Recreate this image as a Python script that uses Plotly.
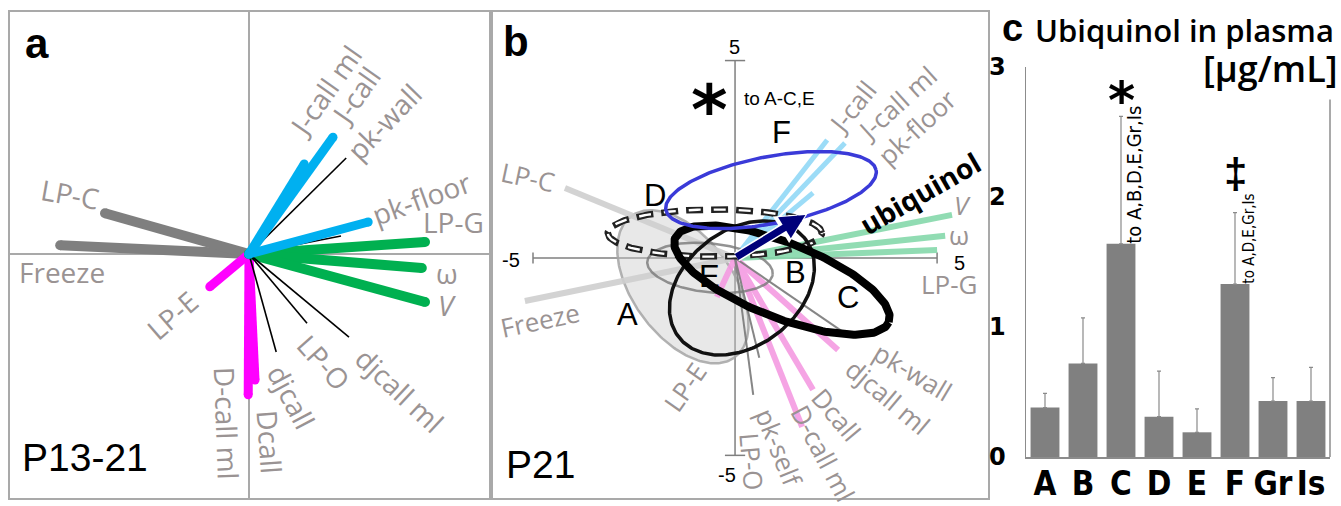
import numpy as np
import plotly.graph_objects as go

W, H = 1341, 506

# ---------------- Panel a : loadings P13-21 ----------------
a_vars = ["Freeze", "LP-C", "J-call ml", "J-call", "pk-wall", "pk-floor", "pk-self",
          "LP-G", "ω", "V", "LP-E", "LP-O", "djcall ml", "djcall", "Dcall", "D-call ml"]
a_x = [-4.72, -3.60, 2.10, 1.38, 2.43, 2.98, 2.30, 4.40, 4.32, 4.40, -0.98, 1.45, 2.50, 0.68, 0.15, -0.02]
a_y = [0.22, 1.02, 2.92, 2.25, 2.40, 0.80, 0.45, 0.30, -0.35, -1.20, -0.82, -1.73, -2.08, -2.45, -3.15, -3.52]
a_grp = ["gray", "gray", "blue", "blue", "black", "blue", "black",
         "green", "green", "green", "magenta", "black", "black", "black", "magenta", "magenta"]

# ---------------- Panel b : loadings P21 ----------------
b_vars = ["LP-C", "Freeze", "J-call", "J-call ml", "pk-floor", "V", "ω", "LP-G",
          "pk-wall", "djcall ml", "Dcall", "D-call ml", "pk-self", "LP-O", "LP-E"]
b_x = [-4.21, -5.20, 2.28, 2.72, 1.93, 5.37, 5.20, 5.00, 2.85, 2.55, 1.93, 1.66, 0.60, 0.45, -0.45]
b_y = [1.77, -1.09, 2.99, 2.91, 1.65, 1.09, 0.56, 0.20, -2.00, -2.33, -3.34, -4.28, -2.53, -3.47, -0.99]
b_grp = ["gray", "gray", "blue", "blue", "blue", "green", "green", "green",
         "dark", "pink", "pink", "pink", "dark", "dark", "pink"]

# group ellipses in panel b (centre, semi-axes, angle in degrees)
ell_names = ["A", "E", "D", "B", "C", "F"]
ell_cx = [-1.29, -0.62, -0.50, 0.17, 1.16, 0.89]
ell_cy = [-0.73, -0.25, 0.63, -0.76, -0.56, 1.72]
ell_a = [2.20, 1.56, 2.65, 2.00, 2.85, 2.65]
ell_b = [1.25, 0.62, 0.60, 1.45, 0.95, 0.85]
ell_ang = [-55, -6, 0, 40, -22, 11]

# ubiquinol vector
ubi_x, ubi_y = 1.74, 1.09

# ---------------- Panel c : ubiquinol in plasma ----------------
groups = ["A", "B", "C", "D", "E", "F", "Gr", "Is"]
means = [0.38, 0.72, 1.64, 0.31, 0.19, 1.33, 0.43, 0.43]
upper = [0.49, 1.07, 2.62, 0.66, 0.37, 1.88, 0.61, 0.69]
y_ticks = [0, 1, 2, 3]

LBL = "#9a9393"
FRAME = "#a9a9a9"
COND = "DejaVu Sans Condensed"


def px(x):
    return x / W


def py(y):
    return 1 - y / H


fig = go.Figure()

# ---- panel a lines
col_a = {"gray": "#7f7f7f", "blue": "#00b0f0", "green": "#00b050", "magenta": "#ff00ff", "black": "#000000"}
wid_a = {"gray": 10, "blue": 9, "green": 10, "magenta": 9, "black": 1.6}
for g in ["gray", "magenta", "green", "black", "blue"]:
    xs, ys = [], []
    for x, y, gg in zip(a_x, a_y, a_grp):
        if gg == g:
            xs += [0, x, None]
            ys += [0, y, None]
    fig.add_trace(go.Scatter(
        x=xs, y=ys, mode="lines" if g == "black" else "lines+markers",
        line=dict(color=col_a[g], width=wid_a[g]),
        marker=dict(size=wid_a[g], color=col_a[g], line=dict(width=0)),
        xaxis="x", yaxis="y", hoverinfo="skip", showlegend=False))

# ---- panel b
t = np.linspace(0, 2 * np.pi, 240)


def ellipse(i):
    th = np.radians(ell_ang[i])
    ex = ell_cx[i] + ell_a[i] * np.cos(t) * np.cos(th) - ell_b[i] * np.sin(t) * np.sin(th)
    ey = ell_cy[i] + ell_a[i] * np.cos(t) * np.sin(th) + ell_b[i] * np.sin(t) * np.cos(th)
    return ex, ey


# A filled ellipse (under everything)
ex, ey = ellipse(0)
fig.add_trace(go.Scatter(x=ex, y=ey, mode="lines", fill="toself", fillcolor="rgba(200,200,200,0.42)",
                         line=dict(color="rgba(165,165,165,0.85)", width=2.5),
                         xaxis="x2", yaxis="y2", hoverinfo="skip", showlegend=False))

col_b = {"gray": "#cfcfcf", "blue": "#92d9f7", "green": "#86d9ab", "pink": "#f59be2", "dark": "#7a7a7a"}
wid_b = {"gray": 6, "blue": 5, "green": 6, "pink": 6, "dark": 2}
for g in ["gray", "green", "blue", "pink", "dark"]:
    xs, ys = [], []
    for x, y, gg in zip(b_x, b_y, b_grp):
        if gg == g:
            xs += [0, x, None]
            ys += [0, y, None]
    fig.add_trace(go.Scatter(
        x=xs, y=ys, mode="lines", line=dict(color=col_b[g], width=wid_b[g]),
        opacity=0.9, xaxis="x2", yaxis="y2", hoverinfo="skip", showlegend=False))

# E ellipse
ex, ey = ellipse(1)
fig.add_trace(go.Scatter(x=ex, y=ey, mode="lines", line=dict(color="rgba(120,120,120,0.8)", width=2.5),
                         xaxis="x2", yaxis="y2", hoverinfo="skip", showlegend=False))
# D dashed ellipse: outlined dashes
ex, ey = ellipse(2)
fig.add_trace(go.Scatter(x=ex, y=ey, mode="lines", line=dict(color="#222222", width=6.5, dash="17px,8px"),
                         xaxis="x2", yaxis="y2", hoverinfo="skip", showlegend=False))
fig.add_trace(go.Scatter(x=ex, y=ey, mode="lines", line=dict(color="white", width=2.4, dash="0px,2.5px,12px,10.5px"),
                         xaxis="x2", yaxis="y2", hoverinfo="skip", showlegend=False))
# B
ex, ey = ellipse(3)
fig.add_trace(go.Scatter(x=ex, y=ey, mode="lines", line=dict(color="#111111", width=3.5),
                         xaxis="x2", yaxis="y2", hoverinfo="skip", showlegend=False))
# C
ex, ey = ellipse(4)
fig.add_trace(go.Scatter(x=ex, y=ey, mode="lines", line=dict(color="#000000", width=8),
                         xaxis="x2", yaxis="y2", hoverinfo="skip", showlegend=False))
# F
ex, ey = ellipse(5)
fig.add_trace(go.Scatter(x=ex, y=ey, mode="lines", line=dict(color="#3a3ad8", width=3.5),
                         xaxis="x2", yaxis="y2", hoverinfo="skip", showlegend=False))

# ---- panel c bars
fig.add_trace(go.Bar(
    x=groups, y=means, marker=dict(color="#808080", line=dict(width=0)),
    error_y=dict(type="data", symmetric=False,
                 array=[u - m for u, m in zip(upper, means)], arrayminus=[0] * len(means),
                 color="#8a8a8a", thickness=1.2, width=2),
    xaxis="x3", yaxis="y3", hoverinfo="skip", showlegend=False))

ann = []


def lab(text, x, y, ang=0, ref="", size=28, color=LBL, family="Open Sans", weight="normal"):
    ann.append(dict(text=text, x=x, y=y, xref="x" + ref, yref="y" + ref, showarrow=False,
                    textangle=ang, xanchor="center", yanchor="middle",
                    font=dict(family=family, size=size, color=color, weight=weight)))


# panel a labels (position in axis units)
a_lab = [("Freeze", -4.67, -0.45, 0), ("LP-C", -4.47, 1.5, 10), ("J-call ml", 1.9, 4.07, -55),
         ("J-call", 2.67, 3.97, -55), ("pk-wall", 3.37, 3.3, -46), ("pk-floor", 4.32, 1.4, -20),
         ("LP-G", 5.1, 0.8, 0), ("ω", 4.95, -0.47, 0), ("<i>V</i>", 4.95, -1.27, 0),
         ("LP-E", -1.92, -1.52, -41), ("LP-O", 1.87, -2.7, 48), ("djcall ml", 3.77, -3.4, 43),
         ("djcall", 1.07, -3.57, 62), ("Dcall", 0.52, -4.7, 86), ("D-call ml", -0.55, -4.22, 88)]
for tx, x, y, a in a_lab:
    lab(tx, x, y, a, "")

# panel b labels
b_lab = [("LP-C", -5.12, 2.05, 12), ("Freeze", -4.83, -1.57, -12), ("J-call", 2.9, 3.82, -51),
         ("J-call ml", 4.01, 3.92, -42), ("pk-floor", 4.5, 3.32, -43), ("<i>V</i>", 5.62, 1.34, 0),
         ("ω", 5.54, 0.58, 0), ("LP-G", 5.3, -0.66, 0), ("pk-wall", 4.41, -2.89, 31),
         ("djcall ml", 3.79, -3.52, 40), ("Dcall", 2.52, -3.97, 50), ("D-call ml", 2.18, -4.94, 62),
         ("pk-self", 1.09, -4.78, 68), ("LP-O", 0.42, -5.16, 85), ("LP-E", -1.24, -3.27, -55)]
for tx, x, y, a in b_lab:
    lab(tx, x, y, a, "2", size=26)

for tx, x, y in [("A", -2.67, -1.44), ("B", 1.49, -0.38), ("C", 2.8, -1.01),
                 ("D", -1.98, 1.59), ("E", -0.62, -0.48), ("F", 1.16, 3.19)]:
    lab(tx, x, y, 0, "2", size=31, color="black", family="Liberation Sans")

lab("ubiquinol", 4.58, 1.65, -30, "2", size=28, color="black", family="Open Sans", weight="bold")
lab("to A-C,E", 1.11, 4.05, 0, "2", size=19, color="black", family="Liberation Sans")
lab("*", -0.64, 3.75, 0, "2", size=70, color="black", family="DejaVu Sans", weight="bold")
# axis numbers in panel b
for tx, x, y in [("5", -0.02, 5.35), ("-5", -5.55, -0.05), ("5", 5.55, -0.13), ("-5", -0.2, -5.5)]:
    lab(tx, x, y, 0, "2", size=20, color="black", family="Liberation Sans")

# arrow (ubiquinol vector)
ann.append(dict(x=ubi_x * 1.03, y=ubi_y * 1.03, ax=0, ay=0, xref="x2", yref="y2", axref="x2", ayref="y2",
                text="", showarrow=True, arrowhead=2, arrowsize=0.62, arrowwidth=10, arrowcolor="white"))
ann.append(dict(x=ubi_x, y=ubi_y, ax=0, ay=0, xref="x2", yref="y2", axref="x2", ayref="y2",
                text="", showarrow=True, arrowhead=2, arrowsize=0.7, arrowwidth=7, arrowcolor="#00007a"))


# panel letters / titles
def plab(text, x, y, size, family="Liberation Sans", weight="normal", xanchor="center"):
    ann.append(dict(text=text, x=px(x), y=py(y), xref="paper", yref="paper", showarrow=False,
                    xanchor=xanchor, yanchor="middle",
                    font=dict(family=family, size=size, color="black", weight=weight)))


plab("a", 37, 44, 42, weight="bold")
plab("P13-21", 85, 457, 39)
plab("b", 516, 42, 42, weight="bold")
plab("P21", 540, 464, 39)
plab("c", 1012, 28, 38, weight="bold")
plab("Ubiquinol in plasma", 1336, 30, 31, family="Open Sans", weight=600, xanchor="right")
plab("[µg/mL]", 1340, 68, 36, family="Open Sans", weight=600, xanchor="right")

# panel c significance annotations
lab("*", 2, 2.75, 0, "3", size=52, color="black", family="DejaVu Sans", weight="bold")
lab("to A,B,D,E,Gr,Is", 2.34, 2.17, -90, "3", size=20, color="black", family=COND)
lab("‡", 5, 2.18, 0, "3", size=42, color="black", family="Liberation Sans", weight="bold")
lab("to A,D,E,Gr,Is", 5.37, 1.68, -90, "3", size=15, color="black", family=COND)

shapes = []
# panel b axis cross with end ticks
AX = "#7f7f7f"
for x0, y0, x1, y1 in [(-5, 0, 5, 0), (0, -5, 0, 5), (-5, -0.14, -5, 0.14), (5, -0.14, 5, 0.14),
                       (-0.25, 5, 0.25, 5), (-0.25, -5, 0.25, -5)]:
    shapes.append(dict(type="line", xref="x2", yref="y2", x0=x0, y0=y0, x1=x1, y1=y1,
                       line=dict(color=AX, width=1.5), layer="below"))
# right frame line of panel c
shapes.append(dict(type="line", xref="x3 domain", yref="y3", x0=1, x1=1, y0=0, y1=2.75,
                   line=dict(color="#8c8c8c", width=1.5)))

frame = dict(showline=True, mirror=True, linecolor=FRAME, linewidth=2, showgrid=False,
             showticklabels=False, ticks="", automargin=False, fixedrange=True)

fig.update_layout(
    width=W, height=H, margin=dict(l=0, r=0, t=0, b=0), template="none",
    paper_bgcolor="white", plot_bgcolor="white", showlegend=False, bargap=0.24,
    font=dict(family="Open Sans"),
    xaxis=dict(domain=[px(10), px(489)], range=[-5.975, 6.0], anchor="y",
               zeroline=True, zerolinecolor=FRAME, zerolinewidth=2, **frame),
    yaxis=dict(domain=[py(498), py(12)], range=[-6.1, 6.05], anchor="x",
               zeroline=True, zerolinecolor=FRAME, zerolinewidth=2, **frame),
    xaxis2=dict(domain=[px(493), px(988)], range=[-5.99, 6.26], anchor="y2", zeroline=False, **frame),
    yaxis2=dict(domain=[py(498), py(12)], range=[-6.08, 6.23], anchor="x2", zeroline=False, **frame),
    xaxis3=dict(domain=[px(1026), px(1330)], anchor="y3", type="category", range=[-0.5, 7.5],
                tickmode="array", tickvals=groups, ticktext=groups, tickangle=0,
                showline=True, linecolor="#8c8c8c", linewidth=1.5, ticks="", showgrid=False,
                zeroline=False, automargin=False, fixedrange=True, ticklabelstandoff=-3,
                tickfont=dict(family=COND, size=33, color="black", weight="bold")),
    yaxis3=dict(domain=[py(457), py(67)], anchor="x3", range=[0, 3], tickvals=y_ticks,
                showline=True, linecolor="#8c8c8c", linewidth=1.5, ticks="", showgrid=False,
                zeroline=False, automargin=False, fixedrange=True, ticklabelstandoff=14,
                tickfont=dict(family="DejaVu Sans", size=24, color="black", weight="bold")),
    annotations=ann, shapes=shapes,
)

fig.write_html("out.html", config={"displayModeBar": False, "staticPlot": True},
               post_script="document.body.style.margin='0';document.body.style.padding='0';"
                           "document.documentElement.style.overflow='hidden';")
